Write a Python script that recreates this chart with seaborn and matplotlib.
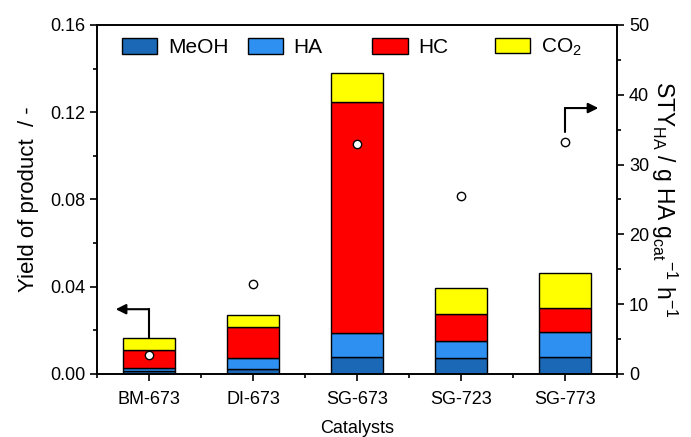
import numpy as np
import pandas as pd
import matplotlib
matplotlib.use("Agg")
import matplotlib.pyplot as plt
import seaborn as sns
from matplotlib.patches import Patch
from matplotlib.legend import Legend
from matplotlib.ticker import MultipleLocator, FormatStrFormatter

catalysts = ["BM-673", "DI-673", "SG-673", "SG-723", "SG-773"]
meoh = [0.0015, 0.0023, 0.0077, 0.0075, 0.0079]
ha = [0.0013, 0.0049, 0.0112, 0.0076, 0.0115]
hc = [0.0082, 0.0145, 0.1060, 0.0123, 0.0110]
co2 = [0.0054, 0.0053, 0.0131, 0.0119, 0.0161]
sty_ha = [2.7, 12.9, 32.9, 25.5, 33.3]

series_names = ["MeOH", "HA", "HC", "CO$_2$"]
series_vals = [meoh, ha, hc, co2]
colors = ["#1a68b6", "#2e90f0", "#ff0000", "#ffff00"]

sns.set_style("ticks")
plt.rcParams["font.family"] = ["Liberation Sans", "DejaVu Sans"]
plt.rcParams["mathtext.fontset"] = "custom"
plt.rcParams["mathtext.rm"] = "Liberation Sans"
plt.rcParams["mathtext.it"] = "Liberation Sans:italic"
for k in ["text.color", "axes.labelcolor", "xtick.color", "ytick.color", "axes.edgecolor"]:
    plt.rcParams[k] = "black"

fig = plt.figure(figsize=(6.91, 4.37), dpi=100)
ax = fig.add_axes([0.1404, 0.1442, 0.7526, 0.7986])

df = pd.DataFrame({"cat": catalysts})
bottom = np.zeros(len(catalysts))
for name, vals, col in zip(series_names, series_vals, colors):
    sns.barplot(x=df["cat"], y=vals, bottom=bottom, color=col, width=0.5,
                edgecolor="black", linewidth=1.0, saturation=1, ax=ax)
    bottom = bottom + np.array(vals)

ax.set_xlim(-0.5, 4.5)
ax.set_ylim(0, 0.16)
ax.yaxis.set_major_locator(MultipleLocator(0.04))
ax.yaxis.set_minor_locator(MultipleLocator(0.02))
ax.yaxis.set_major_formatter(FormatStrFormatter("%.2f"))
ax.xaxis.set_minor_locator(MultipleLocator(0.5))
ax.tick_params(axis="both", which="major", labelsize=13, length=5, width=1.2, direction="out")
ax.tick_params(axis="x", which="major", pad=7)
ax.tick_params(axis="both", which="minor", length=3, width=1.2, direction="out")
ax.set_xlabel("Catalysts", fontsize=13, labelpad=9)
ax.set_ylabel("Yield of product  / -", fontsize=16, labelpad=8)
for s in ax.spines.values():
    s.set_linewidth(1.2)

ax2 = ax.twinx()
sns.scatterplot(x=np.arange(len(catalysts)), y=sty_ha, ax=ax2, s=36,
                color="white", edgecolor="black", linewidth=1.0, zorder=5)
ax2.set_ylim(0, 50)
ax2.yaxis.set_major_locator(MultipleLocator(10))
ax2.yaxis.set_minor_locator(MultipleLocator(5))
ax2.tick_params(axis="y", which="major", labelsize=13, length=5, width=1.2, direction="out")
ax2.tick_params(axis="y", which="minor", length=3, width=1.2, direction="out")
ax2.set_ylabel(r"STY$_{\mathrm{HA}}$ / g HA g$_{\mathrm{cat}}$$^{-1}$ h$^{-1}$",
               fontsize=16.5, rotation=270, labelpad=22)
for s in ax2.spines.values():
    s.set_linewidth(1.2)

# direction arrows
ax.plot([0, 0], [0.0166, 0.0297], color="black", lw=1.5, zorder=6)
ax.annotate("", xy=(-0.32, 0.0297), xytext=(0.0, 0.0297),
            arrowprops=dict(arrowstyle="-|>,head_length=0.6,head_width=0.3",
                            color="black", lw=1.5, shrinkA=0, shrinkB=0), zorder=6)
ax2.plot([4, 4], [34.6, 38.1], color="black", lw=1.5, zorder=6)
ax2.annotate("", xy=(4.32, 38.1), xytext=(4.0, 38.1),
             arrowprops=dict(arrowstyle="-|>,head_length=0.6,head_width=0.3",
                             color="black", lw=1.5, shrinkA=0, shrinkB=0), zorder=6)

# legend entries placed individually to follow the reference spacing
leg_x = [0.048, 0.290, 0.529, 0.765]
for n, c, lx in zip(series_names, colors, leg_x):
    h = Patch(facecolor=c, edgecolor="black", linewidth=1.0, label=n)
    leg = Legend(ax2, [h], [n], loc="center left", bbox_to_anchor=(lx, 0.935),
                 frameon=False, fontsize=15, handlelength=1.7, handleheight=0.75,
                 handletextpad=0.5, borderpad=0, borderaxespad=0)
    ax2.add_artist(leg)

fig.savefig("out.png", dpi=100)
